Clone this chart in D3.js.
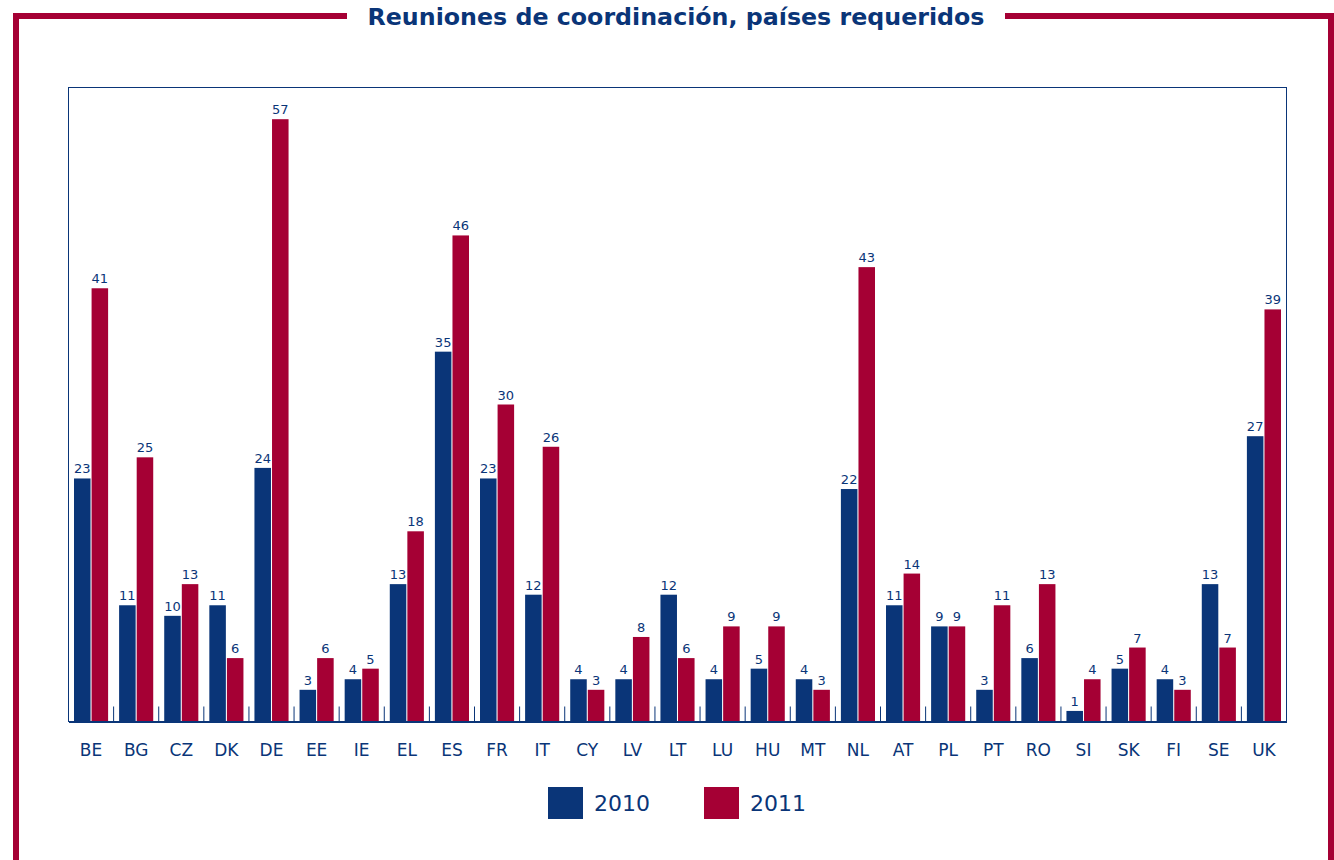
<!DOCTYPE html>
<meta charset="utf-8">
<style>
  body { margin: 0; background: #fff; }
  text { font-family: "DejaVu Sans", Verdana, sans-serif; }
</style>
<div id="chart"></div>
<script src="https://d3js.org/d3.v7.min.js"></script>
<script>
var countries = ["BE","BG","CZ","DK","DE","EE","IE","EL","ES","FR","IT","CY","LV","LT","LU","HU","MT","NL","AT","PL","PT","RO","SI","SK","FI","SE","UK"];
var years = ["2010", "2011"];
var values2010 = [23,11,10,11,24,3,4,13,35,23,12,4,4,12,4,5,4,22,11,9,3,6,1,5,4,13,27];
var values2011 = [41,25,13,6,57,6,5,18,46,30,26,3,8,6,9,9,3,43,14,9,11,13,4,7,3,7,39];
var title = "Reuniones de coordinación, países requeridos";

var blue = "#0a3578", red = "#a50034";
var W = 1334, H = 860;
var margin = {top: 87.5, right: 47.5, bottom: 138.5, left: 68.5};
var width = W - margin.left - margin.right, height = H - margin.top - margin.bottom;

var svg = d3.select("#chart").append("svg").attr("width", W).attr("height", H);

// outer frame with title gap
var frame = svg.append("g").attr("stroke", red).attr("stroke-width", 6).attr("fill", "none");
frame.append("path").attr("d", "M16,860 V16 H347");
frame.append("path").attr("d", "M1005,16 H1331 V860");
svg.append("text").attr("x", 676).attr("y", 25).attr("text-anchor", "middle")
  .attr("font-size", 23).attr("font-weight", "bold").attr("fill", blue)
  .attr("textLength", 617).attr("lengthAdjust", "spacingAndGlyphs").text(title);

var g = svg.append("g").attr("transform", "translate(" + margin.left + "," + margin.top + ")");

var x = d3.scaleBand().domain(countries).range([0, width]).paddingInner(0).paddingOuter(0);
var xs = d3.scaleBand().domain(years).range([5.5, x.bandwidth() - 5.5]).paddingInner(0.06);
var y = d3.scaleLinear().domain([0, 60]).range([height, 0]);
var color = d3.scaleOrdinal().domain(years).range([blue, red]);

var data = countries.map(function(c, i) {
  return {country: c, vals: [{year: "2010", v: values2010[i]}, {year: "2011", v: values2011[i]}]};
});

// plot border
g.append("rect").attr("width", width).attr("height", height)
  .attr("fill", "none").attr("stroke", blue).attr("stroke-width", 1);

var groups = g.selectAll(".grp").data(data).enter().append("g")
  .attr("transform", function(d) { return "translate(" + x(d.country) + ",0)"; });

groups.selectAll("rect").data(function(d) { return d.vals; }).enter().append("rect")
  .attr("x", function(d) { return xs(d.year); })
  .attr("width", xs.bandwidth())
  .attr("y", function(d) { return y(d.v); })
  .attr("height", function(d) { return height - y(d.v); })
  .attr("fill", function(d) { return color(d.year); });

groups.selectAll(".lbl").data(function(d) { return d.vals; }).enter().append("text")
  .attr("x", function(d) { return xs(d.year) + xs.bandwidth() / 2; })
  .attr("y", function(d) { return y(d.v) - 5; })
  .attr("text-anchor", "middle").attr("font-size", 13).attr("fill", blue)
  .text(function(d) { return d.v; });

// x axis
var xAxis = g.append("g").attr("transform", "translate(0," + height + ")")
  .call(d3.axisBottom(x).tickSize(0).tickPadding(22));
xAxis.select(".domain").attr("stroke", blue).attr("stroke-width", 2);
xAxis.selectAll("text").attr("font-size", 17).attr("fill", blue)
  .style("font-family", "'DejaVu Sans', Verdana, sans-serif");

// separators between categories
g.selectAll(".sep").data(countries.slice(1)).enter().append("line")
  .attr("x1", function(d) { return x(d); }).attr("x2", function(d) { return x(d); })
  .attr("y1", height - 15).attr("y2", height)
  .attr("stroke", blue).attr("stroke-width", 1);

// legend
var legend = svg.append("g").attr("transform", "translate(548,787)");
var li = legend.selectAll("g").data(years).enter().append("g")
  .attr("transform", function(d, i) { return "translate(" + (i * 156) + ",0)"; });
li.append("rect").attr("width", 35).attr("height", 32).attr("fill", function(d) { return color(d); });
li.append("text").attr("x", 46).attr("y", 24).attr("font-size", 22).attr("fill", blue).text(function(d) { return d; });
</script>
